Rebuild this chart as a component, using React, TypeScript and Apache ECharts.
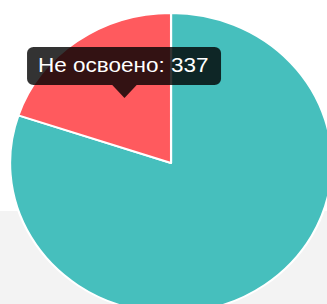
import React, { useEffect, useRef } from "react";
import * as echarts from "echarts";

const categories = ["Освоено", "Не освоено"];
const values = [1360, 337];
const colors = ["#46BFBD", "#FF5A5E"];
const tooltipIndex = 1;

const SX = 1.073;

export default function App() {
  const ref = useRef<HTMLDivElement>(null);
  useEffect(() => {
    if (!ref.current) return;
    const chart = echarts.init(ref.current, undefined, { renderer: "svg" });
    const tipText = `${categories[tooltipIndex]}: ${values[tooltipIndex]}`;
    chart.setOption({
      animation: false,
      series: [
        {
          type: "pie",
          center: [159.4, 163],
          radius: [0, 150],
          startAngle: 90,
          clockwise: true,
          silent: true,
          label: { show: false },
          labelLine: { show: false },
          itemStyle: { borderColor: "#ffffff", borderWidth: 2 },
          emphasis: { disabled: true },
          data: categories.map((c, i) => ({
            name: c,
            value: values[i],
            itemStyle: { color: colors[i] },
          })),
        },
      ],
      graphic: [
        {
          type: "rect",
          shape: { x: 25.2, y: 47, width: 180.8, height: 38, r: 6 },
          style: { fill: "rgba(0,0,0,0.8)" },
          z: 100,
        },
        {
          type: "polygon",
          shape: { points: [[104.6, 85], [127.4, 85], [116, 98]] },
          style: { fill: "rgba(0,0,0,0.8)" },
          z: 100,
        },
        {
          type: "text",
          x: 35.4,
          y: 65,
          style: {
            text: tipText,
            fill: "#ffffff",
            font: "21px 'Liberation Sans', Arial, sans-serif",
            textVerticalAlign: "middle",
            textAlign: "left",
          },
          z: 101,
        },
      ],
    });
    return () => chart.dispose();
  }, []);

  return (
    <div
      style={{
        position: "fixed",
        left: 0,
        top: 0,
        width: 327,
        height: 304,
        overflow: "hidden",
        background: "linear-gradient(to bottom, #ffffff 0px, #ffffff 211px, #f3f3f3 211px, #f3f3f3 304px)",
      }}
    >
      <div
        ref={ref}
        style={{
          width: 305,
          height: 304,
          transform: `scaleX(${SX})`,
          transformOrigin: "0 0",
        }}
      />
    </div>
  );
}
